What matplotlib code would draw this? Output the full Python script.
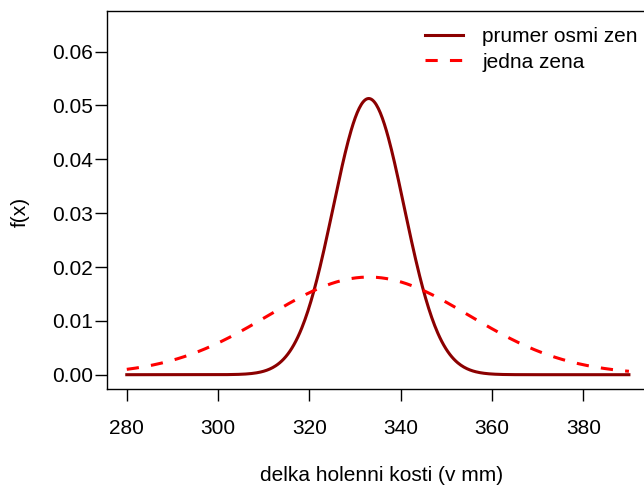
import numpy as np
import matplotlib.pyplot as plt

# parametry
mu = 333.0
sigma = 22.0
n_zen = 8
x_range = [280, 390]
x_ticks = [280, 300, 320, 340, 360, 380]
y_ticks = [0.00, 0.01, 0.02, 0.03, 0.04, 0.05, 0.06]
labels = ["prumer osmi zen", "jedna zena"]

plt.rcParams['font.family'] = ['Liberation Sans', 'DejaVu Sans']

W, H = 644, 486
fig = plt.figure(figsize=(W / 100, H / 100), dpi=100)

# osa v pixelech (R styl, prava strana presahuje obrazek)
left, right, top, bottom = 106.7, 649.0, 10.7, 388.7
ax = fig.add_axes([left / W, 1 - bottom / H, (right - left) / W, (bottom - top) / H])


def hustota(x, m, s):
    return np.exp(-0.5 * ((x - m) / s) ** 2) / (s * np.sqrt(2 * np.pi))


x = np.linspace(x_range[0], x_range[1], 500)
ax.plot(x, hustota(x, mu, sigma / np.sqrt(n_zen)), color='#8B0000', lw=2.2,
        label=labels[0])
ax.plot(x, hustota(x, mu, sigma), color='red', lw=2.2, ls=(0, (4, 4)),
        label=labels[1])

dx = 0.04 * (x_range[1] - x_range[0])
ax.set_xlim(x_range[0] - dx, x_range[1] + dx)
ax.set_ylim(-0.0026, 0.0676)
ax.set_xticks(x_ticks)
ax.set_yticks(y_ticks)
ax.set_yticklabels(["%.2f" % v for v in y_ticks])

ax.spines['right'].set_visible(False)
for s in ['left', 'top', 'bottom']:
    ax.spines[s].set_linewidth(1.0)
ax.tick_params(direction='out', length=8.6, width=1.0, labelsize=15)
ax.tick_params(axis='x', pad=13)
ax.tick_params(axis='y', pad=1.5)

fig.text(382 / W, 1 - 475 / H, "delka holenni kosti (v mm)", ha='center',
         va='center', fontsize=15)
fig.text(20 / W, 1 - 212 / H, "f(x)", ha='center', va='center',
         rotation=90, fontsize=15)

leg = ax.legend(frameon=False, loc='upper left',
                bbox_to_anchor=(425 / W, 1 - 27.5 / H),
                bbox_transform=fig.transFigure, borderpad=0,
                borderaxespad=0, handlelength=1.8, handletextpad=0.95,
                labelspacing=0.3, fontsize=15)

fig.savefig("out.png", dpi=100)
